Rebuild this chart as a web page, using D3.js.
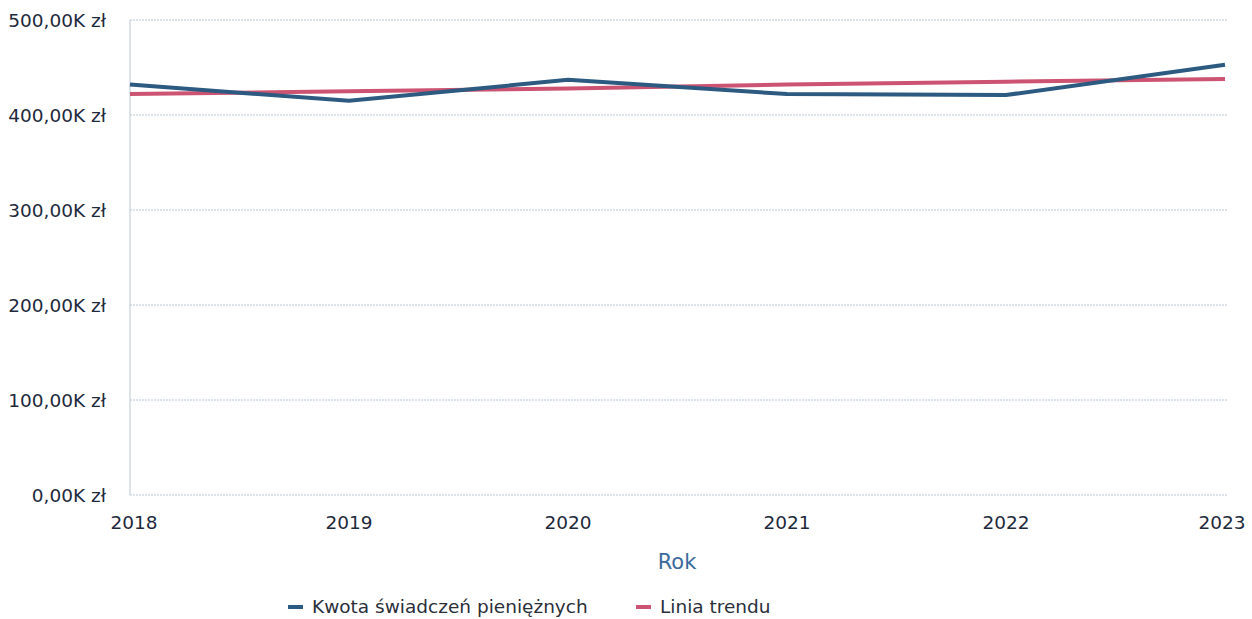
<!DOCTYPE html>
<html><head><meta charset="utf-8">
<script src="https://cdn.jsdelivr.net/npm/d3@7"></script>
<style>body{margin:0;background:#fff}svg{display:block}</style>
</head><body>
<svg id="c" width="1252" height="619"></svg>
<script>
const years = [2018, 2019, 2020, 2021, 2022, 2023];
const kwota = [432, 415, 437, 422, 421, 453];   // thousands zł
const trend = [422, 425, 428, 432, 435, 438];
const yTicks = [0, 100, 200, 300, 400, 500];
const seriesNames = ["Kwota świadczeń pieniężnych", "Linia trendu"];
const colors = ["#2c5a80", "#cc5472"];

const svg = d3.select("#c");
const L = 130, R = 1225, T = 20, B = 495;
const x = d3.scaleLinear().domain([2018, 2023]).range([L, R]);
const y = d3.scaleLinear().domain([0, 500]).range([B, T]);
const font = "DejaVu Sans, Verdana, sans-serif";

// grid
svg.append("g").selectAll("line").data(yTicks).join("line")
  .attr("x1", L).attr("x2", R + 2).attr("y1", d => y(d)).attr("y2", d => y(d))
  .attr("stroke", "#b9c6d6").attr("stroke-width", 1).attr("stroke-dasharray", "2,1");
svg.append("line").attr("x1", L).attr("x2", L).attr("y1", T).attr("y2", B)
  .attr("stroke", "#b9c6d6").attr("stroke-width", 1);

// y labels
const fmt = d => d3.format(".2f")(d).replace(".", ",") + "K zł";
svg.append("g").selectAll("text").data(yTicks).join("text")
  .attr("x", 106).attr("y", d => y(d) + 7).attr("text-anchor", "end")
  .attr("font-family", font).attr("font-size", 18.5).attr("fill", "#1e2a3c")
  .text(fmt);

// x labels
svg.append("g").selectAll("text").data(years).join("text")
  .attr("x", (d, i) => x(d) + (i === 0 ? 4 : i === years.length - 1 ? -3 : 0))
  .attr("y", 529).attr("text-anchor", "middle")
  .attr("font-family", font).attr("font-size", 18.5).attr("fill", "#1e2a3c")
  .text(d => d);

svg.append("text").attr("x", 677).attr("y", 569).attr("text-anchor", "middle")
  .attr("font-family", font).attr("font-size", 21).attr("fill", "#3b6a9c").text("Rok");

const line = d3.line().x((d, i) => x(years[i])).y(d => y(d));
svg.append("path").datum(trend).attr("d", line).attr("fill", "none")
  .attr("stroke", colors[1]).attr("stroke-width", 4);
svg.append("path").datum(kwota).attr("d", line).attr("fill", "none")
  .attr("stroke", colors[0]).attr("stroke-width", 4).attr("stroke-linejoin", "miter");

// legend
const lg = [{x: 288}, {x: 636}];
seriesNames.forEach((n, i) => {
  svg.append("line").attr("x1", lg[i].x).attr("x2", lg[i].x + 15).attr("y1", 607).attr("y2", 607)
    .attr("stroke", colors[i]).attr("stroke-width", 4);
  svg.append("text").attr("x", lg[i].x + 24).attr("y", 613)
    .attr("font-family", font).attr("font-size", 18.5).attr("fill", "#2a2f3a").text(n);
});
</script>
</body></html>
